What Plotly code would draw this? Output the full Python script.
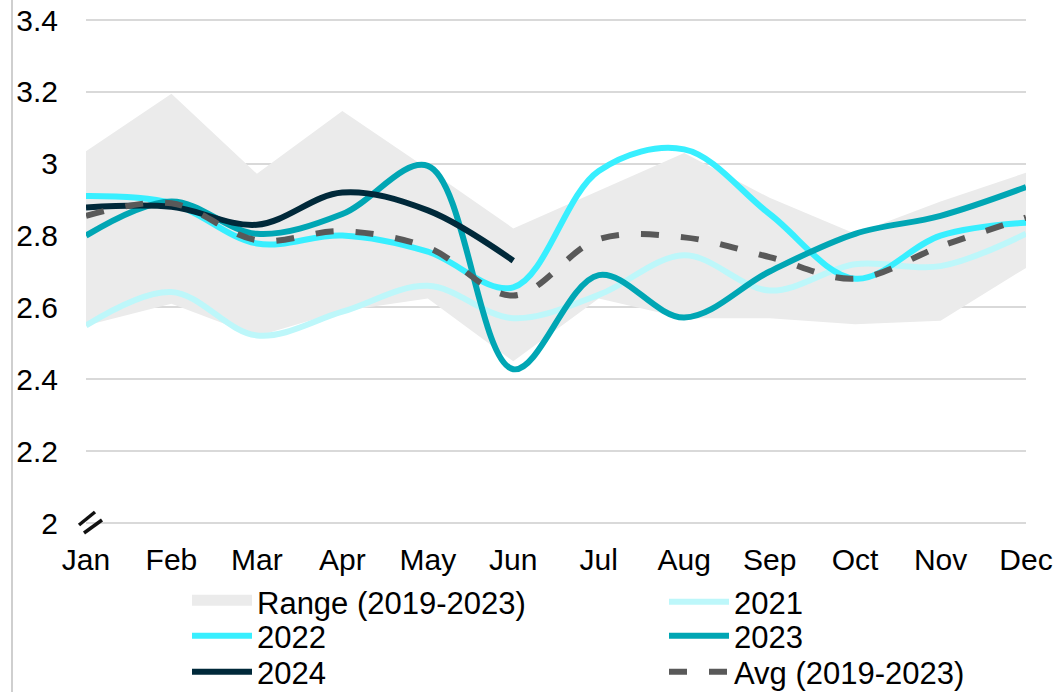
import plotly.graph_objects as go

months = ["Jan", "Feb", "Mar", "Apr", "May", "Jun", "Jul", "Aug", "Sep", "Oct", "Nov", "Dec"]
x_idx = list(range(len(months)))

range_low = [2.55, 2.61, 2.52, 2.59, 2.625, 2.45, 2.625, 2.57, 2.57, 2.553, 2.563, 2.71]
range_high = [3.035, 3.195, 2.972, 3.147, 2.985, 2.82, 2.925, 3.03, 2.905, 2.805, 2.895, 2.975]
y2021 = [2.55, 2.643, 2.522, 2.588, 2.66, 2.57, 2.635, 2.745, 2.647, 2.72, 2.715, 2.805]
y2022 = [2.91, 2.89, 2.778, 2.80, 2.755, 2.656, 2.98, 3.04, 2.86, 2.68, 2.80, 2.836]
y2023 = [2.80, 2.895, 2.805, 2.86, 2.994, 2.428, 2.69, 2.572, 2.70, 2.805, 2.855, 2.935]
y2024 = [2.878, 2.88, 2.83, 2.92, 2.87, 2.73]
yavg = [2.855, 2.89, 2.787, 2.812, 2.767, 2.633, 2.79, 2.795, 2.74, 2.68, 2.77, 2.85]

y_ticks = [2.0, 2.2, 2.4, 2.6, 2.8, 3.0, 3.2, 3.4]
y_ticktext = ["2", "2.2", "2.4", "2.6", "2.8", "3", "3.2", "3.4"]

FONT = "Liberation Sans, Arial, sans-serif"
W, H = 1058, 692
ML, MR, MT, MB = 86, 32, 17, 166
PW, PH = W - ML - MR, H - MT - MB
# y=3.4 at px 20, y=2 at px 523 -> pad range by 3 px each side so edge gridlines are drawn
UNIT_PX = (523 - 20) / 1.4
PAD = 3 / UNIT_PX


def px_x(px):
    return (px - ML) / PW


def px_y(py):
    return (H - MB - py) / PH


fig = go.Figure()

fig.add_trace(go.Scatter(x=x_idx, y=range_low, mode="lines", line=dict(width=0, color="#EBEBEB"),
                         showlegend=False, hoverinfo="skip"))
fig.add_trace(go.Scatter(x=x_idx, y=range_high, mode="lines", line=dict(width=0, color="#EBEBEB"),
                         fill="tonexty", fillcolor="#EBEBEB", name="Range (2019-2023)",
                         showlegend=False, legendgroup="range"))
# legend entry for the range band
fig.add_trace(go.Scatter(x=[None], y=[None], mode="lines", name="Range (2019-2023)",
                         fill="toself", fillcolor="#EBEBEB", line=dict(color="#EBEBEB", width=10),
                         legend="legend", legendgroup="range"))

line_w = 6
fig.add_trace(go.Scatter(x=x_idx, y=y2021, mode="lines", name="2021", legend="legend2",
                         line=dict(color="#BDF7FA", width=line_w, shape="spline", smoothing=1.0)))
fig.add_trace(go.Scatter(x=x_idx, y=y2022, mode="lines", name="2022", legend="legend3",
                         line=dict(color="#38EFFF", width=line_w, shape="spline", smoothing=1.0)))
fig.add_trace(go.Scatter(x=x_idx, y=y2023, mode="lines", name="2023", legend="legend4",
                         line=dict(color="#00A6B4", width=line_w, shape="spline", smoothing=1.0)))
fig.add_trace(go.Scatter(x=x_idx[:len(y2024)], y=y2024, mode="lines", name="2024", legend="legend5",
                         line=dict(color="#00293A", width=line_w, shape="spline", smoothing=1.0)))
fig.add_trace(go.Scatter(x=x_idx, y=yavg, mode="lines", name="Avg (2019-2023)", legend="legend6",
                         line=dict(color="#595959", width=line_w, shape="spline", smoothing=1.0,
                                   dash="18px,22px")))

shapes = [
    dict(type="line", xref="paper", yref="paper", x0=px_x(12), x1=px_x(12), y0=px_y(0), y1=px_y(H),
         line=dict(color="#BFBFBF", width=1.5), layer="above"),
    dict(type="line", xref="paper", yref="paper", x0=px_x(79), y0=px_y(525), x1=px_x(95), y1=px_y(512),
         line=dict(color="#111111", width=3.5), layer="above"),
    dict(type="line", xref="paper", yref="paper", x0=px_x(84), y0=px_y(533), x1=px_x(102), y1=px_y(520),
         line=dict(color="#111111", width=3.5), layer="above"),
]

legend_common = dict(
    orientation="v", yanchor="top", xanchor="left", traceorder="normal",
    font=dict(family=FONT, size=31, color="#000000"),
    bgcolor="rgba(0,0,0,0)", itemwidth=60, tracegroupgap=0,
    itemclick=False, itemdoubleclick=False,
)

# text left edges and row centres (px)
col_text_x = [258, 735]
row_center_y = [603, 637, 673]
TEXT_OFF = 71
CENTER_OFF = 28


def legend_pos(col, row):
    return dict(x=px_x(col_text_x[col] - TEXT_OFF), y=px_y(row_center_y[row] - CENTER_OFF), **legend_common)


fig.update_layout(
    width=W, height=H,
    margin=dict(l=ML, r=MR, t=MT, b=MB, autoexpand=False),
    paper_bgcolor="#FFFFFF", plot_bgcolor="#FFFFFF",
    font=dict(family=FONT, size=30, color="#000000"),
    xaxis=dict(range=[0, 11], tickvals=x_idx, ticktext=months, showgrid=False, zeroline=False,
               showline=False, ticks="", ticklabelstandoff=13, fixedrange=True),
    yaxis=dict(range=[2.0 - PAD, 3.4 + PAD], tickvals=y_ticks, ticktext=y_ticktext, showgrid=True,
               gridcolor="#D9D9D9", gridwidth=2, zeroline=False, showline=False, ticks="",
               ticklabelstandoff=27, fixedrange=True),
    legend=legend_pos(0, 0),
    legend2=legend_pos(1, 0),
    legend3=legend_pos(0, 1),
    legend4=legend_pos(1, 1),
    legend5=legend_pos(0, 2),
    legend6=legend_pos(1, 2),
    shapes=shapes,
    showlegend=True,
)

fig.write_html("out.html", config={"displayModeBar": False},
               post_script="document.body.style.margin='0';document.body.style.overflow='hidden';")
